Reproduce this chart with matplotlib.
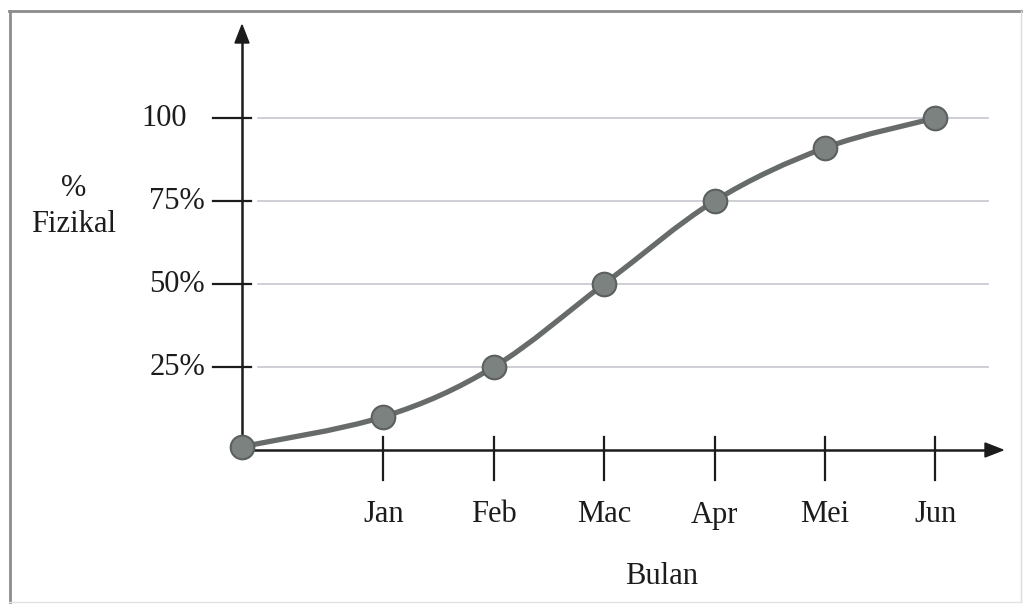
"""
Lengkung S kemajuan fizikal projek (% Fizikal vs Bulan).
"""

import numpy as np
import matplotlib
matplotlib.use('Agg')
import matplotlib.pyplot as plt
from matplotlib.path import Path
from matplotlib.patches import PathPatch, Polygon

# data
months = ['Jan', 'Feb', 'Mac', 'Apr', 'Mei', 'Jun']
month_pos = [1, 2, 3, 4, 5, 6]
start_pos = -0.28
progress = [1, 10, 25, 50, 75, 91, 100]      # titik mula + 6 bulan
y_ticks = [25, 50, 75, 100]
y_tick_labels = ['25%', '50%', '75%', '100']

# susun atur (piksel -> data)
W, H = 1023, 604
ORIGIN_PX = (242, 450)
X_SCALE = 110.4   # piksel per bulan
Y_SCALE = 3.32    # piksel per 1%
label_right_px = [205, 205, 205, 187]


def px(xp, yp):
    return (start_pos + (xp - ORIGIN_PX[0]) / X_SCALE,
            (ORIGIN_PX[1] - yp) / Y_SCALE)


plt.rcParams['font.family'] = ['Liberation Serif', 'DejaVu Serif']
ink = '#1c1c1c'
curve_col = '#676c6b'
FS = 22

fig = plt.figure(figsize=(W / 100, H / 100), dpi=100)
fig.patch.set_facecolor('white')
ax = fig.add_axes([0, 0, 1, 1])
x0, y0 = px(0, H)
x1, y1 = px(W, 0)
ax.set_xlim(x0, x1)
ax.set_ylim(y0, y1)
ax.axis('off')

# bingkai imbasan
fig.add_artist(plt.Line2D([9 / W, 1021 / W], [1 - 11 / H, 1 - 11 / H],
                          transform=fig.transFigure, color='#8c8c8c', lw=2))
fig.add_artist(plt.Line2D([9.5 / W, 9.5 / W], [1 - 11 / H, 2 / H],
                          transform=fig.transFigure, color='#8c8c8c', lw=2))
fig.add_artist(plt.Line2D([1021 / W, 1021 / W], [1 - 11 / H, 2 / H],
                          transform=fig.transFigure, color='#dcdcdc', lw=1))
fig.add_artist(plt.Line2D([9 / W, 1021 / W], [2 / H, 2 / H],
                          transform=fig.transFigure, color='#e2e2e2', lw=1))

# garisan grid
gx_left = px(258, 0)[0]
gx_right = px(988, 0)[0]
for v in y_ticks:
    ax.plot([gx_left, gx_right], [v, v], color='#c6c6ce', lw=1.2, zorder=1)

# paksi
ax.plot([start_pos, px(987, 0)[0]], [0, 0], color=ink, lw=1.8, zorder=2)
ax.plot([start_pos, start_pos], [0, px(0, 42)[1]], color=ink, lw=1.8, zorder=2)
ax.add_patch(Polygon([px(1003, 450), px(985, 443), px(985, 457)],
                     closed=True, color=ink, zorder=2))
ax.add_patch(Polygon([px(242, 25), px(235, 43), px(249, 43)],
                     closed=True, color=ink, zorder=2))

# tik paksi-y
for v, lab, rx in zip(y_ticks, y_tick_labels, label_right_px):
    ax.plot([px(213, 0)[0], px(251, 0)[0]], [v, v], color=ink, lw=1.6, zorder=2)
    ax.text(px(rx, 0)[0], v, lab, ha='right', va='center',
            fontsize=FS, color=ink)

# tik paksi-x
for p, lab in zip(month_pos, months):
    ax.plot([p, p], [px(0, 437)[1], px(0, 480)[1]], color=ink, lw=1.6, zorder=2)
    ax.text(p, px(0, 515)[1], lab, ha='center', va='center',
            fontsize=FS, color=ink)

# label paksi
ax.text(*px(74, 188), '%', ha='center', va='center', fontsize=FS, color=ink)
ax.text(*px(74, 225), 'Fizikal', ha='center', va='center', fontsize=FS, color=ink)
ax.text(*px(662, 577), 'Bulan', ha='center', va='center', fontsize=FS, color=ink)

# lengkung S (Catmull-Rom -> Bezier kubik)
xs = np.array([start_pos] + month_pos, dtype=float)
ys = np.array(progress, dtype=float)
pts = np.column_stack([xs, ys])
n = len(pts)
verts = [pts[0]]
codes = [Path.MOVETO]
for i in range(n - 1):
    p0 = pts[max(i - 1, 0)]
    p1 = pts[i]
    p2 = pts[i + 1]
    p3 = pts[min(i + 2, n - 1)]
    c1 = p1 + (p2 - p0) / 6
    c2 = p2 - (p3 - p1) / 6
    verts += [c1, c2, p2]
    codes += [Path.CURVE4] * 3
ax.add_patch(PathPatch(Path(verts, codes), facecolor='none',
                       edgecolor=curve_col, lw=3.8, capstyle='round', zorder=3))

ax.plot(xs, ys, linestyle='none', marker='o', markersize=17,
        markerfacecolor='#7c8280', markeredgecolor='#5c6160',
        markeredgewidth=1.5, zorder=4)

fig.savefig('out.png', dpi=100, facecolor='white')
